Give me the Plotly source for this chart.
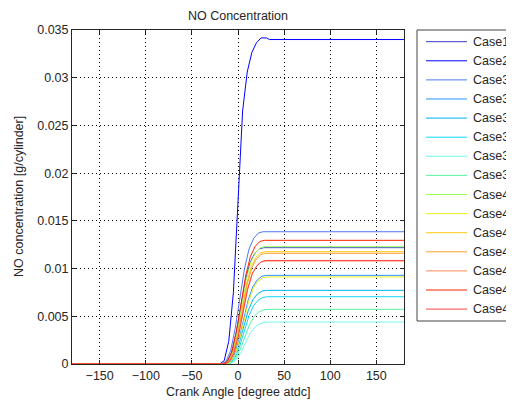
import plotly.graph_objects as go

# ---- data ----
case_names = ["Case18", "Case23", "Case31", "Case32", "Case35", "Case36", "Case37",
              "Case38", "Case41", "Case43", "Case44", "Case45", "Case46", "Case47", "Case48"]
case_colors = ["#3a3ac8", "#0000ff", "#4f78f2", "#2a90ff", "#00b0f5", "#10d8f5", "#70f8f0",
               "#55f5a0", "#99ff55", "#e8f020", "#ffcc11", "#ffa030", "#ff8a60", "#ff2000", "#ff4444"]
# plateau values (g/cylinder)
case_final = [0.01219, 0.0340, 0.01386, 0.00929, 0.00772, 0.00705, 0.00440,
              0.00573, 0.01229, 0.00912, 0.01177, 0.01160, 0.01079, 0.01296, 0.01085]
# onset shift of each curve (deg)
case_shift = [1.0, 0.0, 0.0, 4.0, 4.0, 5.0, 6.0, 5.5, 2.0, 4.5, 2.5, 3.0, 3.0, 1.5, 3.5]

# rise profile of the fastest curve (fraction of plateau vs crank angle)
fast_angle = [-180, -20, -15, -10, -5, 0, 5, 10, 15, 20, 25, 31, 34, 180]
fast_frac = [0.0, 0.0, 0.01, 0.07, 0.22, 0.50, 0.78, 0.90, 0.96, 0.99, 1.005, 1.005, 1.0, 1.0]
# rise profile of the slower curves
slow_angle = [-180, -18, -13, -8, -3, 2, 7, 12, 17, 22, 27, 180]
slow_frac = [0.0, 0.0, 0.02, 0.10, 0.27, 0.50, 0.72, 0.87, 0.95, 0.99, 1.0, 1.0]

x_ticks = [-150, -100, -50, 0, 50, 100, 150]
y_ticks = [0, 0.005, 0.01, 0.015, 0.02, 0.025, 0.03, 0.035]
y_ticktext = ["0", "0.005", "0.01", "0.015", "0.02", "0.025", "0.03", "0.035"]

fig = go.Figure()
for name, col, fin, sh in zip(case_names, case_colors, case_final, case_shift):
    if name == "Case23":
        ang, frac = fast_angle, fast_frac
    else:
        ang, frac = slow_angle, slow_frac
    xs = [a + sh if abs(a) < 180 else a for a in ang]
    ys = [f * fin for f in frac]
    fig.add_trace(go.Scatter(x=xs, y=ys, mode="lines", name=name,
                             line=dict(color=col, width=1), showlegend=False))

# page has an 8px body margin, so the figure is laid out in shifted coords
OFF = 8
W, H = 514 - OFF, 403 - OFF
L, R, T, B = 72 - OFF, 404 - OFF, 30 - OFF, 364 - OFF
font_family = "Liberation Sans, Arial, sans-serif"
txt = "#262626"


def px_x(px):  # page pixel -> paper x
    return (px - OFF - L) / (R - L)


def px_y(py):  # page pixel -> paper y
    return (B - (py - OFF)) / (B - T)


axis_common = dict(
    showline=True, linecolor=txt, linewidth=1, mirror="ticks",
    ticks="inside", ticklen=4, tickcolor=txt, automargin=False,
    showgrid=True, gridcolor="#000000", griddash="1px,3px", gridwidth=1,
    zeroline=False, tickfont=dict(size=12.5, color=txt, family=font_family),
)

# manual MATLAB-style legend (box, line samples, labels)
shapes = [dict(type="rect", xref="paper", yref="paper",
               x0=px_x(417), x1=px_x(540), y0=px_y(321), y1=px_y(30),
               line=dict(color="#444444", width=1), fillcolor="white", layer="above")]
annotations = []
for i, (name, col) in enumerate(zip(case_names, case_colors)):
    yc = 41.7 + i * 19.1
    shapes.append(dict(type="line", xref="paper", yref="paper",
                       x0=px_x(426), x1=px_x(467), y0=px_y(yc), y1=px_y(yc),
                       line=dict(color=col, width=1), layer="above"))
    annotations.append(dict(text=name, xref="paper", yref="paper",
                            x=px_x(471), y=px_y(yc), xanchor="left", yanchor="middle",
                            showarrow=False, font=dict(size=12.5, color=txt)))

annotations += [
    dict(text="Crank Angle [degree atdc]", xref="paper", yref="paper",
         x=0.5, y=px_y(392), xanchor="center", yanchor="middle",
         showarrow=False, font=dict(size=12.5, color=txt)),
    dict(text="NO concentration [g/cylinder]", xref="paper", yref="paper",
         x=px_x(19), y=0.5, xanchor="center", yanchor="middle",
         textangle=-90, showarrow=False, font=dict(size=12.5, color=txt)),
]

fig.update_layout(
    width=W, height=H,
    margin=dict(l=L, r=W - R, t=T, b=H - B, autoexpand=False),
    paper_bgcolor="white", plot_bgcolor="white",
    font=dict(family=font_family, size=12.5, color=txt),
    title=dict(text="NO Concentration", x=(L + R) / 2 / W, xanchor="center",
               y=1 - (16 - OFF) / H, yanchor="middle", font=dict(size=12.5, color=txt)),
    xaxis=dict(range=[-180, 180], tickvals=x_ticks, **axis_common),
    yaxis=dict(range=[0, 0.035], tickvals=y_ticks, ticktext=y_ticktext, **axis_common),
    shapes=shapes,
    annotations=annotations,
    showlegend=False,
)

fig.write_html("out.html")
